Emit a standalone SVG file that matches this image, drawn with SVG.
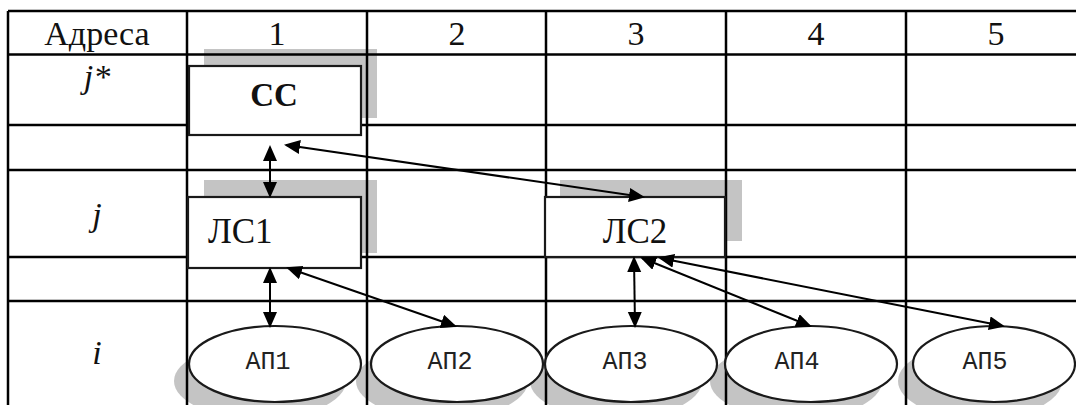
<svg xmlns="http://www.w3.org/2000/svg" width="1076" height="405" viewBox="0 0 1076 405">
  <style>
    .grid { stroke: #000; stroke-width: 2.5; fill: none; }
    .shadow { fill: #c4c4c4; }
    .box { fill: #fff; stroke: #1a1a1a; stroke-width: 2.2; }
    .hdr { font-family: "Liberation Serif", "DejaVu Serif", serif; font-size: 34px; fill: #111; text-anchor: middle; }
    .ital { font-style: italic; }
    .lbl { font-family: "Liberation Serif", "DejaVu Serif", serif; font-size: 35px; fill: #111; }
    .cc { font-family: "Liberation Serif", "DejaVu Serif", serif; font-size: 33px; font-weight: 700; fill: #111; text-anchor: middle; }
    .ap { font-family: "Liberation Mono", "DejaVu Sans Mono", monospace; font-size: 25px; fill: #222; text-anchor: middle; }
    .link { stroke: #000; stroke-width: 2; fill: none; marker-start: url(#arrow); marker-end: url(#arrow); }
  </style>
  <defs>
    <marker id="arrow" markerUnits="userSpaceOnUse" markerWidth="17" markerHeight="15" refX="14" refY="7" orient="auto-start-reverse">
      <path d="M0,0 L16,7 L0,14 z" fill="#000"/>
    </marker>
  </defs>

  <rect width="1076" height="405" fill="#fff"/>

  <!-- drop shadows (under the grid) -->
  <g id="shadows">
    <rect class="shadow" x="204" y="49" width="173" height="69"/>
    <rect class="shadow" x="204" y="180" width="173" height="73"/>
    <rect class="shadow" x="560" y="180" width="182" height="61"/>
    <ellipse class="shadow" cx="260" cy="381" rx="86" ry="38"/>
    <ellipse class="shadow" cx="442" cy="381" rx="86" ry="38"/>
    <ellipse class="shadow" cx="616" cy="381" rx="86" ry="38"/>
    <ellipse class="shadow" cx="796" cy="381" rx="86" ry="38"/>
    <ellipse class="shadow" cx="980" cy="381" rx="82" ry="38"/>
  </g>

  <!-- address table -->
  <g id="table">
    <path class="grid" d="M8,11 H1076 M8,54.5 H1076 M8,125 H1076 M8,170 H1076 M8,257 H1076 M8,301 H1076"/>
    <path class="grid" d="M8,11 V405 M187,11 V405 M367,11 V405 M546,11 V405 M726,11 V405 M906,11 V405"/>
    <text class="hdr" x="97" y="45">Адреса</text>
    <text class="hdr" x="277" y="45">1</text>
    <text class="hdr" x="457" y="45">2</text>
    <text class="hdr" x="636" y="45">3</text>
    <text class="hdr" x="816" y="45">4</text>
    <text class="hdr" x="996" y="45">5</text>
    <text class="hdr ital" x="97" y="88">j*</text>
    <text class="hdr ital" x="97" y="226">j</text>
    <text class="hdr ital" x="97" y="364">i</text>
  </g>

  <!-- nodes -->
  <g id="node-cc">
    <rect class="box" x="189" y="66" width="172" height="69"/>
    <text class="cc" x="274" y="106">CC</text>
  </g>
  <g id="node-ls1">
    <rect class="box" x="188" y="197" width="173" height="71"/>
    <text class="lbl" x="208" y="243">ЛС1</text>
  </g>
  <g id="node-ls2">
    <rect class="box" x="545" y="197" width="180" height="60"/>
    <text class="lbl" x="635" y="243" text-anchor="middle">ЛС2</text>
  </g>
  <g id="node-ap1">
    <ellipse class="box" cx="275" cy="364" rx="86" ry="38"/>
    <text class="ap" x="268" y="369">АП1</text>
  </g>
  <g id="node-ap2">
    <ellipse class="box" cx="457" cy="364" rx="86" ry="38"/>
    <text class="ap" x="450" y="369">АП2</text>
  </g>
  <g id="node-ap3">
    <ellipse class="box" cx="631" cy="364" rx="86" ry="38"/>
    <text class="ap" x="625" y="369">АП3</text>
  </g>
  <g id="node-ap4">
    <ellipse class="box" cx="811" cy="364" rx="86" ry="38"/>
    <text class="ap" x="797" y="369">АП4</text>
  </g>
  <g id="node-ap5">
    <ellipse class="box" cx="994" cy="364" rx="81" ry="38"/>
    <text class="ap" x="985" y="369">АП5</text>
  </g>

  <!-- two-way links -->
  <g id="connectors">
    <line class="link" x1="270" y1="147" x2="270" y2="196"/>
    <line class="link" x1="286" y1="145" x2="643" y2="197"/>
    <line class="link" x1="270" y1="269" x2="270" y2="326"/>
    <line class="link" x1="288" y1="268" x2="455" y2="326"/>
    <line class="link" x1="634" y1="258" x2="635" y2="326"/>
    <line class="link" x1="642" y1="258" x2="810" y2="326"/>
    <line class="link" x1="660" y1="258" x2="1003" y2="326"/>
  </g>
</svg>
